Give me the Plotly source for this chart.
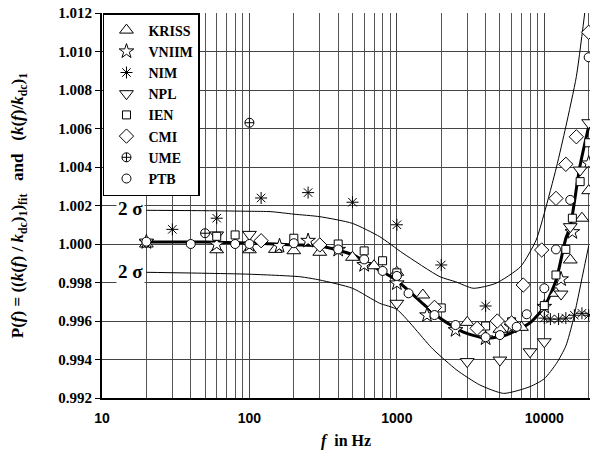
import plotly.graph_objects as go
import numpy as np

# ---- data ----
KRISS_f = [20, 60, 100, 150, 200, 300, 500, 700, 1000, 1500, 3000, 5000, 7000, 12000, 15000, 18000, 20000]
KRISS_v = [1.0000, 0.9997, 0.9997, 0.99972, 0.99965, 0.99957, 0.99931, 0.99887, 0.99853, 0.99735,
           0.99593, 0.99557, 0.99567, 0.99744, 0.99917, 1.00134, 1.00277]

VNIIM_f = [20, 60, 100, 160, 250, 400, 600, 1000, 1600, 2500, 4000, 6000, 10000, 13000, 15500, 20000]
VNIIM_v = [1.0001, 0.99998, 0.99995, 0.9999, 1.00017, 0.9997, 0.99891, 0.99796, 0.9963, 0.99553,
           0.9951, 0.9957, 0.99674, 0.99817, 1.00062, 1.00419]

NIM_f = [30, 60, 120, 250, 500, 1000, 2000, 4000, 10000, 11000, 12500, 14000, 16000, 18000, 20000]
NIM_v = [1.00076, 1.00134, 1.00239, 1.00267, 1.00217, 1.00100, 0.99891, 0.99678, 0.99615, 0.9961,
         0.9961, 0.99615, 0.9963, 0.9964, 0.9963]

NPL_f = [20, 60, 100, 1000, 3000, 5000, 8000, 10000, 13000, 15000, 17500, 20000]
NPL_v = [1.0001, 1.00047, 1.0005, 0.99692, 0.99389, 0.99397, 0.9944, 0.99492, 0.9974, 1.0009, 1.00384, 1.0063]

IEN_f = [60, 80, 200, 400, 600, 800, 1000, 2000, 4000, 6000, 10000, 12000, 14000, 15500, 17500, 20000]
IEN_v = [1.0004, 1.00047, 1.0003, 1.0000, 0.99964, 0.99913, 0.9985, 0.99668, 0.99574, 0.99596,
         0.9968, 0.99839, 0.99972, 1.00134, 1.00324, 1.00526]

CMI_f = [120, 300, 1800, 3500, 4800, 6000, 7200, 9600, 12000, 14000, 16500, 20000]
CMI_v = [1.00017, 0.99995, 0.99671, 0.99562, 0.9960, 0.9959, 0.99787, 0.99969, 1.00237, 1.00414, 1.00557, 1.0110]

UME_f = [50, 100]
UME_v = [1.00056, 1.0063]

PTB_f = [20, 40, 80, 100, 200, 400, 600, 800, 1000, 1200, 1800, 2500, 4000, 5000, 6500, 7600,
         10000, 12000, 15000, 20000]
PTB_v = [1.00012, 1.0000, 1.0000, 1.0000, 1.00004, 0.99972, 0.9992, 0.9986, 0.99834, 0.99744,
         0.99631, 0.99579, 0.99516, 0.99527, 0.9957, 0.99635, 0.9977, 0.99972, 1.00229, 1.0097]

FIT_f = [20, 50, 100, 150, 200, 300, 500, 750, 1000, 1500, 2000, 2800, 4000, 5500, 8000, 10000,
         12000, 14000, 15000, 17400, 20000]
FIT_v = [1.0001, 1.0001, 1.00005, 1.0000, 0.99995, 0.9999, 0.99945, 0.99868, 0.99810, 0.99690,
         0.99610, 0.99544, 0.99510, 0.99527, 0.99591, 0.99674, 0.99810, 1.0003, 1.0009, 1.0040, 1.0061]

UP_f = [20, 50, 100, 140, 200, 300, 500, 765, 1100, 1960, 2500, 3300, 4700, 6900, 8800, 10000,
        12100, 14000, 16500, 18800]
UP_v = [1.00175, 1.00173, 1.0017, 1.00168, 1.00155, 1.00142, 1.00107, 1.00038, 0.99952, 0.9983,
        0.99804, 0.9977, 0.99796, 0.99882, 1.0002, 1.0016, 1.0040, 1.0061, 1.0087, 1.0120]

LO_f = [20, 50, 100, 220, 300, 500, 765, 1000, 1750, 2550, 3650, 5300, 8000, 10000, 12100, 14000,
        15700, 18700, 20000]
LO_v = [0.99853, 0.99848, 0.99843, 0.9983, 0.99813, 0.9977, 0.99692, 0.99660, 0.99455, 0.99345,
        0.99268, 0.99224, 0.99259, 0.99300, 0.9938, 0.9947, 0.99605, 0.99882, 0.9999]

X_TICKS = [10, 100, 1000, 10000]
X_LABELS = ["10", "100", "1000", "10000"]
Y_TICKS = [0.992, 0.994, 0.996, 0.998, 1.000, 1.002, 1.004, 1.006, 1.008, 1.010, 1.012]

# name, freqs, values, symbol, size, fill colour
series = [
    ("KRISS", KRISS_f, KRISS_v, "triangle-up", 12, "white"),
    ("VNIIM", VNIIM_f, VNIIM_v, "star", 11, "white"),
    ("NIM", NIM_f, NIM_v, "asterisk-open", 10, "black"),
    ("NPL", NPL_f, NPL_v, "triangle-down", 12, "white"),
    ("IEN", IEN_f, IEN_v, "square", 8, "white"),
    ("CMI", CMI_f, CMI_v, "diamond", 11, "white"),
    ("UME", UME_f, UME_v, "circle-cross", 9, "white"),
    ("PTB", PTB_f, PTB_v, "circle", 9, "white"),
]

fig = go.Figure()

for fx, fy, w in [(UP_f, UP_v, 1), (LO_f, LO_v, 1), (FIT_f, FIT_v, 3)]:
    fig.add_trace(go.Scatter(x=fx, y=fy, mode="lines",
                             line=dict(color="black", width=w, shape="spline", smoothing=0.6),
                             showlegend=False, hoverinfo="skip"))

for name, fx, fy, sym, sz, fill in series:
    fig.add_trace(go.Scatter(x=fx, y=fy, mode="markers", name=name,
                             marker=dict(symbol=sym, size=sz, color=fill,
                                         line=dict(color="black", width=1))))

serif = "Liberation Serif"
fig.update_layout(
    width=596, height=459,
    margin=dict(l=102, r=6, t=13, b=61),
    paper_bgcolor="white", plot_bgcolor="white",
    showlegend=True,
    legend=dict(x=0.002, y=1, xanchor="left", yanchor="top",
                bgcolor="white", bordercolor="black", borderwidth=1.5,
                font=dict(family=serif, size=14, color="black", weight="bold"),
                tracegroupgap=0, itemwidth=34),
    annotations=[
        dict(x=np.log10(15.5), y=1.00185, xref="x", yref="y", text="2 σ", showarrow=False,
             font=dict(family=serif, size=19, color="black", weight="bold"), bgcolor="white"),
        dict(x=np.log10(15.5), y=0.99855, xref="x", yref="y", text="2 σ", showarrow=False,
             font=dict(family=serif, size=19, color="black", weight="bold"), bgcolor="white"),
    ],
)

fig.update_xaxes(
    type="log", range=[1, 4.31], automargin=False,
    tickvals=X_TICKS, ticktext=X_LABELS, ticklabelstandoff=6,
    tickfont=dict(family="Liberation Sans", size=14, color="black", weight="bold"),
    showgrid=True, gridcolor="#444", gridwidth=1,
    minor=dict(dtick="D1", showgrid=True, gridcolor="#555", gridwidth=1, ticks=""),
    showline=True, linecolor="black", linewidth=2, ticks="", zeroline=False,
    title=dict(text="<i>f</i>  in Hz", font=dict(family=serif, size=16, color="black", weight="bold"), standoff=10),
)
fig.update_yaxes(
    range=[0.992, 1.012], tickvals=Y_TICKS, tickformat=".3f", automargin=False,
    tickfont=dict(family=serif, size=15, color="black", weight="bold"),
    showgrid=True, gridcolor="#444", gridwidth=1,
    showline=True, linecolor="black", linewidth=2, ticks="outside", ticklen=5, tickcolor="black",
    zeroline=False,
    title=dict(text="P(<i>f</i>) = ((<i>k</i>(<i>f</i>) / <i>k</i><sub>dc</sub>)<sub>1</sub>)<sub>fit</sub>   and   (<i>k</i>(<i>f</i>)/<i>k</i><sub>dc</sub>)<sub>1</sub>",
               font=dict(family=serif, size=17, color="black", weight="bold"), standoff=30),
)

# remove the browser's default 8 px page margin so the figure fills the window
fig.write_html("out.html", config={"displayModeBar": False},
               post_script="document.body.style.margin='0';")
